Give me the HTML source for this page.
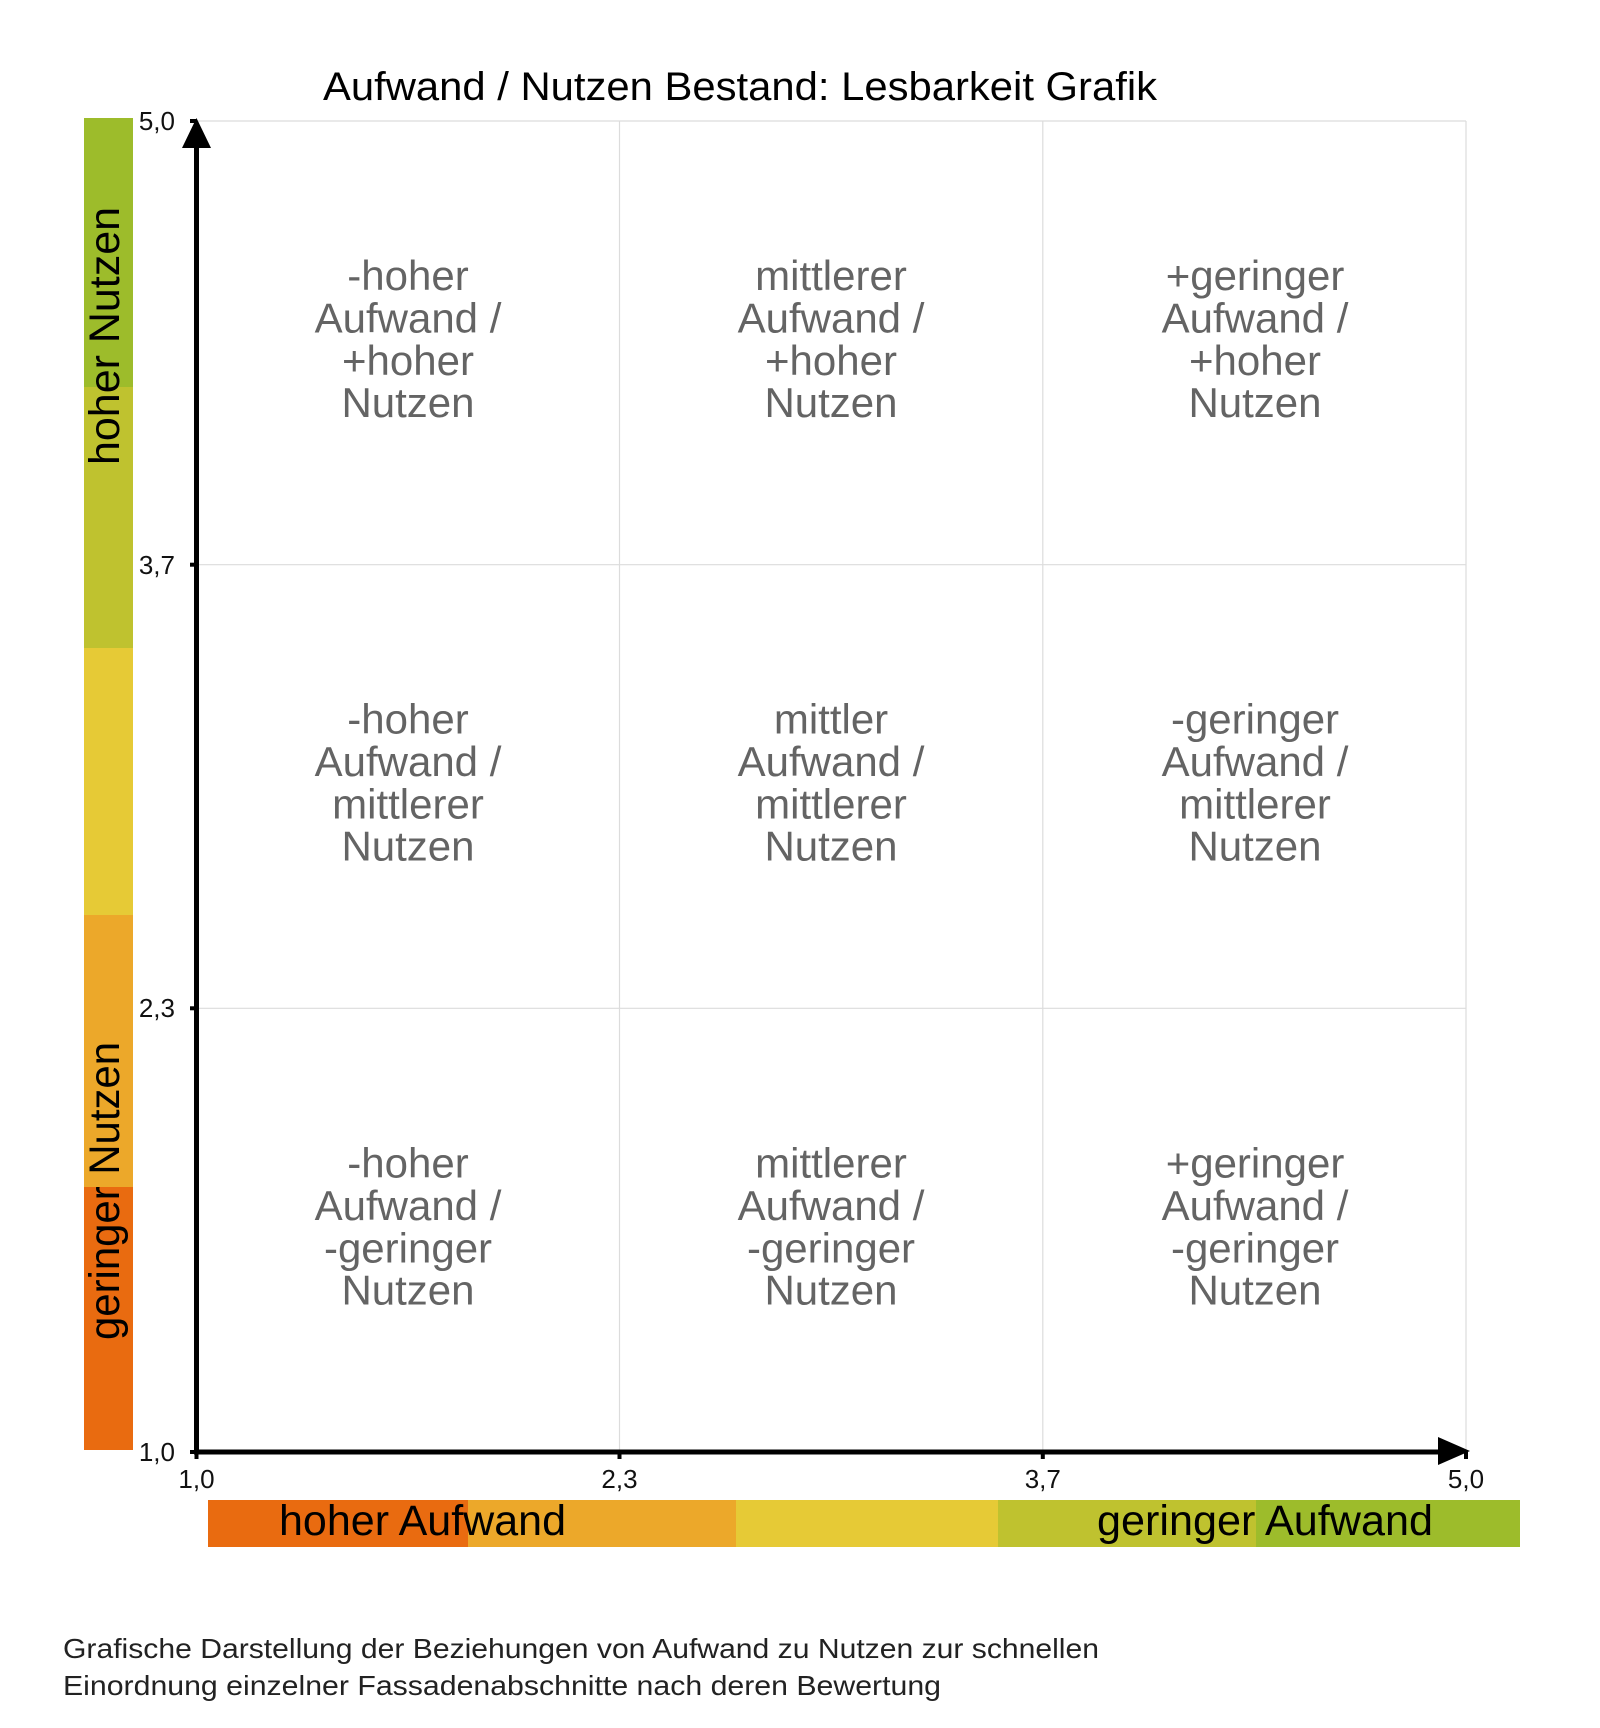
<!DOCTYPE html>
<html>
<head>
<meta charset="utf-8">
<style>
  html, body { margin:0; padding:0; background:#ffffff; }
  body { width:1600px; height:1728px; overflow:hidden; }
  svg { display:block; }
  text { font-family: "Liberation Sans", "DejaVu Sans", sans-serif; }
</style>
</head>
<body>
<svg width="1600" height="1728" viewBox="0 0 1600 1728" xmlns="http://www.w3.org/2000/svg">
  <rect x="0" y="0" width="1600" height="1728" fill="#ffffff"/>

  <!-- Title -->
  <text x="323" y="100" font-size="40" fill="#000" textLength="834" lengthAdjust="spacingAndGlyphs">Aufwand / Nutzen Bestand: Lesbarkeit Grafik</text>

  <!-- Left color bar -->
  <rect x="84" y="118" width="49" height="269" fill="#9dbc2b"/>
  <rect x="84" y="387" width="49" height="261" fill="#bfc22f"/>
  <rect x="84" y="648" width="49" height="267" fill="#e6ca36"/>
  <rect x="84" y="915" width="49" height="272" fill="#eca82a"/>
  <rect x="84" y="1187" width="49" height="263" fill="#e96b10"/>
  <text transform="translate(119,336) rotate(-90)" text-anchor="middle" font-size="43" fill="#000" textLength="258" lengthAdjust="spacingAndGlyphs">hoher Nutzen</text>
  <text transform="translate(119,1191) rotate(-90)" text-anchor="middle" font-size="43" fill="#000" textLength="298" lengthAdjust="spacingAndGlyphs">geringer Nutzen</text>

  <!-- Bottom color bar -->
  <rect x="208" y="1500" width="260" height="47" fill="#e96b10"/>
  <rect x="468" y="1500" width="268" height="47" fill="#eca82a"/>
  <rect x="736" y="1500" width="262" height="47" fill="#e6ca36"/>
  <rect x="998" y="1500" width="258" height="47" fill="#bfc22f"/>
  <rect x="1256" y="1500" width="264" height="47" fill="#9dbc2b"/>
  <text x="279" y="1535" font-size="43" fill="#000" textLength="287" lengthAdjust="spacingAndGlyphs">hoher Aufwand</text>
  <text x="1097" y="1535" font-size="43" fill="#000" textLength="336" lengthAdjust="spacingAndGlyphs">geringer Aufwand</text>

  <!-- Grid lines -->
  <g stroke="#dcdcdc" stroke-width="1.2">
    <line x1="196" y1="121" x2="1466" y2="121"/>
    <line x1="196" y1="564.7" x2="1466" y2="564.7"/>
    <line x1="196" y1="1008.3" x2="1466" y2="1008.3"/>
    <line x1="619.5" y1="121" x2="619.5" y2="1452"/>
    <line x1="1042.8" y1="121" x2="1042.8" y2="1452"/>
    <line x1="1466" y1="121" x2="1466" y2="1452"/>
  </g>

  <!-- Cell texts -->
  <g font-size="42" fill="#646464" text-anchor="middle">
    <!-- Row 1 -->
    <text x="408" y="290">-hoher</text>
    <text x="408" y="332.5">Aufwand /</text>
    <text x="408" y="375">+hoher</text>
    <text x="408" y="417">Nutzen</text>

    <text x="831" y="290">mittlerer</text>
    <text x="831" y="332.5">Aufwand /</text>
    <text x="831" y="375">+hoher</text>
    <text x="831" y="417">Nutzen</text>

    <text x="1255" y="290">+geringer</text>
    <text x="1255" y="332.5">Aufwand /</text>
    <text x="1255" y="375">+hoher</text>
    <text x="1255" y="417">Nutzen</text>

    <!-- Row 2 -->
    <text x="408" y="733.7">-hoher</text>
    <text x="408" y="776.2">Aufwand /</text>
    <text x="408" y="818.7">mittlerer</text>
    <text x="408" y="860.7">Nutzen</text>

    <text x="831" y="733.7">mittler</text>
    <text x="831" y="776.2">Aufwand /</text>
    <text x="831" y="818.7">mittlerer</text>
    <text x="831" y="860.7">Nutzen</text>

    <text x="1255" y="733.7">-geringer</text>
    <text x="1255" y="776.2">Aufwand /</text>
    <text x="1255" y="818.7">mittlerer</text>
    <text x="1255" y="860.7">Nutzen</text>

    <!-- Row 3 -->
    <text x="408" y="1177.3">-hoher</text>
    <text x="408" y="1219.8">Aufwand /</text>
    <text x="408" y="1262.3">-geringer</text>
    <text x="408" y="1304.3">Nutzen</text>

    <text x="831" y="1177.3">mittlerer</text>
    <text x="831" y="1219.8">Aufwand /</text>
    <text x="831" y="1262.3">-geringer</text>
    <text x="831" y="1304.3">Nutzen</text>

    <text x="1255" y="1177.3">+geringer</text>
    <text x="1255" y="1219.8">Aufwand /</text>
    <text x="1255" y="1262.3">-geringer</text>
    <text x="1255" y="1304.3">Nutzen</text>
  </g>

  <!-- Axes -->
  <g stroke="#000" stroke-width="5" fill="none">
    <line x1="196.5" y1="1454.5" x2="196.5" y2="140"/>
    <line x1="194" y1="1452" x2="1445" y2="1452"/>
  </g>
  <polygon points="196.5,118 182,148 211,148" fill="#000"/>
  <polygon points="1470,1451 1438,1437 1438,1465" fill="#000"/>

  <!-- Tick marks -->
  <g fill="#000">
    <rect x="190" y="119" width="7" height="4"/>
    <rect x="190" y="562.7" width="7" height="4"/>
    <rect x="190" y="1006.3" width="7" height="4"/>
    <rect x="190" y="1450" width="7" height="4"/>
    <rect x="194.5" y="1452" width="4" height="7"/>
    <rect x="617.5" y="1452" width="4" height="7"/>
    <rect x="1040.8" y="1452" width="4" height="7"/>
    <rect x="1464" y="1452" width="4" height="7"/>
  </g>

  <!-- Tick labels -->
  <g font-size="26" fill="#111">
    <text x="175" y="130" text-anchor="end">5,0</text>
    <text x="175" y="574" text-anchor="end">3,7</text>
    <text x="175" y="1017" text-anchor="end">2,3</text>
    <text x="175" y="1461" text-anchor="end">1,0</text>
    <text x="196.5" y="1488" text-anchor="middle">1,0</text>
    <text x="619.5" y="1488" text-anchor="middle">2,3</text>
    <text x="1042.8" y="1488" text-anchor="middle">3,7</text>
    <text x="1466" y="1488" text-anchor="middle">5,0</text>
  </g>

  <!-- Caption -->
  <text x="63" y="1658" font-size="28" fill="#222" textLength="1036" lengthAdjust="spacingAndGlyphs">Grafische Darstellung der Beziehungen von Aufwand zu Nutzen zur schnellen</text>
  <text x="63" y="1695" font-size="28" fill="#222" textLength="878" lengthAdjust="spacingAndGlyphs">Einordnung einzelner Fassadenabschnitte nach deren Bewertung</text>
</svg>
</body>
</html>
